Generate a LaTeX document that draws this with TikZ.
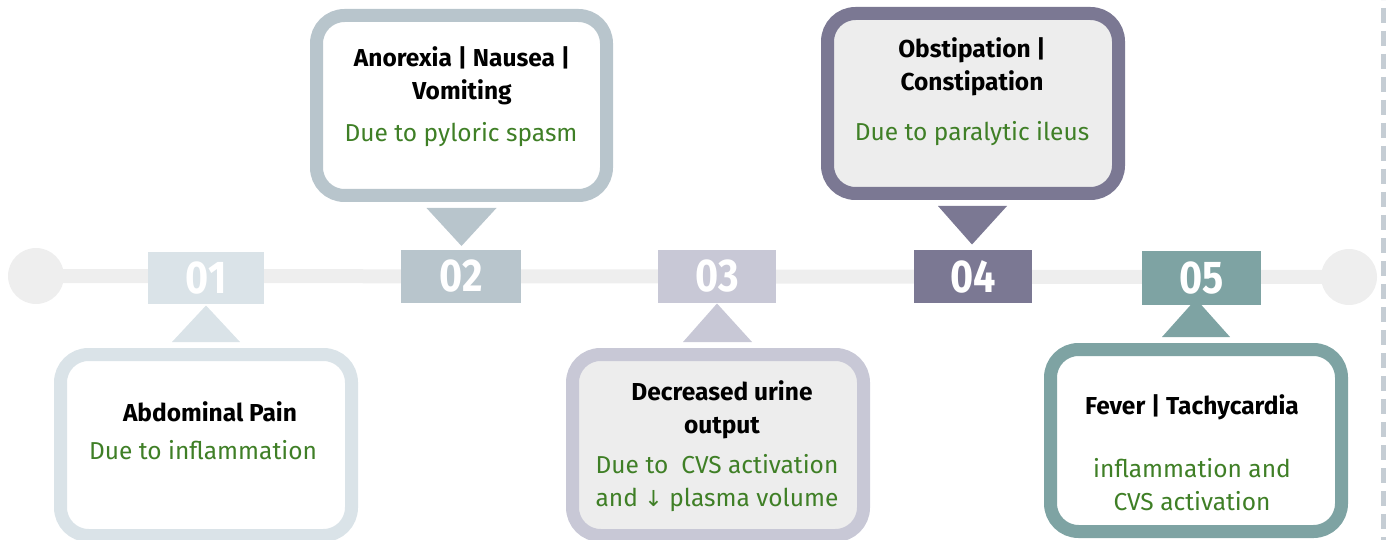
\documentclass[tikz,border=0pt]{standalone}
\usepackage{fontspec}
\usepackage{graphicx}
\setmainfont{Fira Sans}
\newfontfamily\numfont{Fira Sans}
\newfontfamily\symfont{DejaVu Sans}
\usetikzlibrary{calc}
\definecolor{cA}{HTML}{DAE3E8}
\definecolor{cB}{HTML}{B8C5CC}
\definecolor{cC}{HTML}{C8C8D6}
\definecolor{cD}{HTML}{7B7893}
\definecolor{cE}{HTML}{7EA3A3}
\definecolor{track}{HTML}{EEEEEE}
\definecolor{dashc}{HTML}{C5CDD4}
\definecolor{inner}{HTML}{EDEDED}
\definecolor{subgreen}{HTML}{3F7F26}
\begin{document}
\begin{tikzpicture}[x=1pt,y=-1pt,
  numbox/.style={fill=#1,minimum width=118pt,minimum height=53pt,inner sep=0pt,text=white,
    font=\numfont\bfseries\fontsize{46}{46}\selectfont},
  callout/.style={draw=#1,line width=13pt,rounded corners=28pt,minimum width=291pt,
    minimum height=181pt,inner sep=0pt},
  ttl/.style={font=\bfseries\fontsize{24.5}{33}\selectfont,align=center,text=black,inner sep=0pt},
  sub/.style={font=\fontsize{24.5}{33}\selectfont,align=center,text=subgreen,inner sep=0pt},
  pointer/.style={fill=#1}]
\useasboundingbox (0,0) rectangle (1386,540);
% dashed divider
\coordinate (dtop) at (1383,0);
\coordinate (dbot) at (1383,540);
\draw[dashc,line width=5pt,dash pattern=on 15pt off 8pt,dash phase=-8pt] (dtop) -- (dbot);
% track
\node[circle,fill=track,minimum size=56pt,inner sep=0pt] (L) at (36,276) {};
\node[circle,fill=track,minimum size=56pt,inner sep=0pt] (R) at (1349,277) {};
\draw[track,line width=14pt] (L.center) -- (R.center);
% number boxes
\node[numbox=cA,minimum height=52pt,minimum width=116pt] (n1) at (206,278) {\scalebox{0.86}[1]{01}};
\node[numbox=cB,minimum width=120pt] (n2) at (461,276) {\scalebox{0.86}[1]{02}};
\node[numbox=cC] (n3) at (717,276.5) {\scalebox{0.86}[1]{03}};
\node[numbox=cD] (n4) at (973,276.5) {\scalebox{0.86}[1]{04}};
\node[numbox=cE,minimum width=119pt,minimum height=54pt] (n5) at (1201.5,278) {\scalebox{0.86}[1]{05}};
% callout boxes
\node[callout=cA,fill=white] (c1) at (206,445) {};
\node[callout=cB,fill=white,minimum height=180pt,minimum width=290pt] (c2) at (461.5,105.5) {};
\node[callout=cC,fill=inner] (c3) at (718,445) {};
\node[callout=cD,fill=inner,minimum height=180pt] (c4) at (973,103.5) {};
\node[callout=cE,fill=white,minimum height=182pt] (c5) at (1196,440.5) {};
% pointers
\fill[pointer=cA] ($(c1.north)+(-34,-6)$) -- ($(c1.north)+(0,-42.5)$) -- ($(c1.north)+(34,-6)$) -- cycle;
\fill[pointer=cB] ($(c2.south)+(-35,6)$) -- ($(c2.south)+(0,44)$) -- ($(c2.south)+(35,6)$) -- cycle;
\fill[pointer=cC] ($(c3.north)+(-35,-6)$) -- ($(c3.north)+(-1,-44.5)$) -- ($(c3.north)+(34,-6)$) -- cycle;
\fill[pointer=cD] ($(c4.south)+(-35,6)$) -- ($(c4.south)+(-1,44.5)$) -- ($(c4.south)+(34,6)$) -- cycle;
\fill[pointer=cE] ($(c5.north)+(-34,-6)$) -- ($(c5.north)+(0,-44)$) -- ($(c5.north)+(34,-6)$) -- cycle;
% texts
\node[ttl] (t1) at (210,412) {Abdominal Pain};
\node[sub] (s1) at (203,450) {Due to inflammation};
\node[ttl] (t2) at (462,76) {Anorexia | Nausea |\\Vomiting};
\node[sub] (s2) at (461,135) {Due to pyloric spasm};
\node[ttl] (t3) at (722,409.5) {Decreased urine\\output};
\node[sub] (s3) at (717,483) {Due to\ \ CVS activation\\and {\symfont\fontsize{22}{33}\selectfont↓} plasma volume};
\node[ttl] (t4) at (972,66.5) {Obstipation |\\Constipation};
\node[sub] (s4) at (972,134) {Due to paralytic ileus};
\node[ttl] (t5) at (1192,407) {Fever | Tachycardia};
\node[sub] (s5) at (1192,485) {inflammation and\\CVS activation};
\end{tikzpicture}
\end{document}
